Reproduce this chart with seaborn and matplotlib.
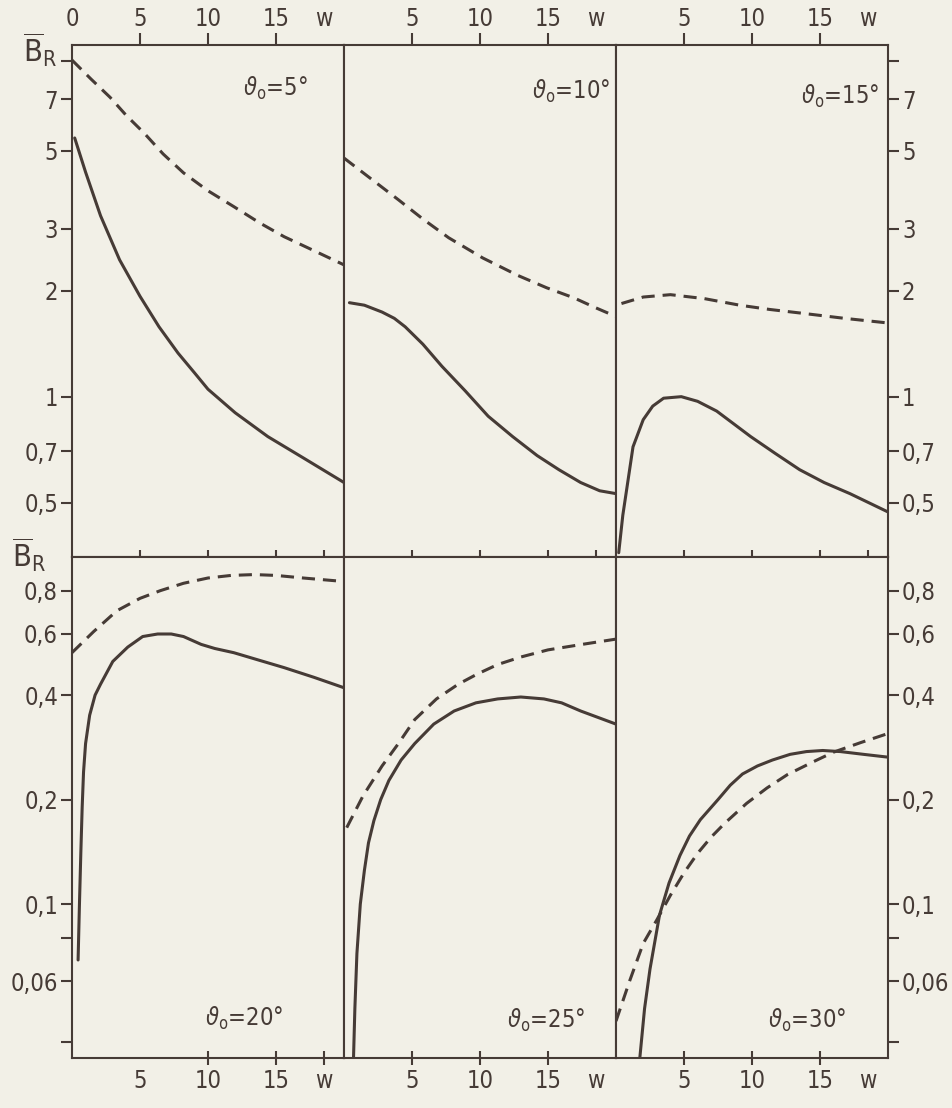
import numpy as np
import pandas as pd
import matplotlib
matplotlib.use("Agg")
import matplotlib.pyplot as plt
import seaborn as sns
from matplotlib.ticker import FixedLocator, FixedFormatter, NullLocator

# ---------------- data (w = wind speed, B = relative brightness) ----------------
angles = ["5", "10", "15", "20", "25", "30"]

w_total_5 = [0.2, 1, 2.1, 3.5, 5.0, 6.4, 7.8, 9, 10, 12, 14.4, 17, 20]
b_total_5 = [5.44, 4.35, 3.27, 2.45, 1.93, 1.58, 1.33, 1.17, 1.05, 0.90, 0.77, 0.67, 0.57]
w_sky_5 = [0, 1.4, 2.8, 4, 5.3, 6.7, 8.2, 10, 11.9, 13.8, 15.6, 17.8, 20]
b_sky_5 = [9.06, 8.0, 7.1, 6.3, 5.62, 4.9, 4.33, 3.85, 3.47, 3.12, 2.85, 2.6, 2.37]

w_total_10 = [0.4, 1.5, 2.8, 3.7, 4.5, 5.8, 7.2, 8.9, 10.6, 12.4, 14.2, 15.8, 17.4, 18.8, 20]
b_total_10 = [1.85, 1.82, 1.74, 1.67, 1.58, 1.41, 1.22, 1.04, 0.88, 0.77, 0.68, 0.62, 0.57, 0.54, 0.53]
w_sky_10 = [0, 2, 4, 5.8, 7.7, 10.2, 12.8, 14.9, 16.9, 18.5, 20]
b_sky_10 = [4.77, 4.16, 3.63, 3.2, 2.83, 2.48, 2.21, 2.04, 1.91, 1.79, 1.69]

w_total_15 = [0.2, 0.5, 0.8, 1.25, 2, 2.7, 3.5, 4.8, 6, 7.4, 8.6, 9.9, 11.7, 13.5, 15.3, 17.2, 20]
b_total_15 = [0.36, 0.46, 0.55, 0.72, 0.86, 0.94, 0.99, 1.0, 0.97, 0.91, 0.84, 0.77, 0.69, 0.62, 0.57, 0.53, 0.47]
w_sky_15 = [0.4, 2, 4, 6.5, 9.1, 11.3, 13.5, 16.8, 20]
b_sky_15 = [1.84, 1.92, 1.95, 1.90, 1.82, 1.77, 1.73, 1.67, 1.62]

w_total_20 = [0.45, 0.55, 0.65, 0.75, 0.85, 1.0, 1.3, 1.7, 2.1, 3, 4.1, 5.2, 6.3, 7.3, 8.2, 9.5, 10.5, 11.9, 13.7, 15.6, 17.8, 20]
b_total_20 = [0.069, 0.10, 0.14, 0.19, 0.24, 0.29, 0.35, 0.40, 0.43, 0.50, 0.55, 0.59, 0.60, 0.60, 0.59, 0.56, 0.545, 0.53, 0.505, 0.48, 0.45, 0.42]
w_sky_20 = [0, 1.6, 3.3, 5, 6.5, 8.2, 10, 11.7, 13.4, 15, 17, 20]
b_sky_20 = [0.53, 0.61, 0.70, 0.76, 0.80, 0.84, 0.87, 0.885, 0.89, 0.885, 0.87, 0.85]

w_total_25 = [0.7, 0.8, 0.95, 1.2, 1.5, 1.8, 2.2, 2.7, 3.3, 4.2, 5.2, 6.6, 8.1, 9.7, 11.3, 13, 14.7, 16, 17.4, 20]
b_total_25 = [0.036, 0.05, 0.072, 0.10, 0.125, 0.15, 0.174, 0.20, 0.227, 0.26, 0.29, 0.33, 0.36, 0.38, 0.39, 0.395, 0.39, 0.38, 0.36, 0.33]
w_sky_25 = [0.2, 1.4, 2.8, 4, 5.2, 6.8, 8.4, 9.8, 11.3, 13, 15, 17.5, 20]
b_sky_25 = [0.166, 0.205, 0.25, 0.29, 0.34, 0.39, 0.43, 0.46, 0.49, 0.515, 0.54, 0.56, 0.58]

w_total_30 = [1.75, 2.1, 2.5, 3.2, 3.9, 4.7, 5.4, 6.2, 7.5, 8.4, 9.3, 10.4, 11.5, 12.8, 14, 15.2, 16.5, 18.2, 20]
b_total_30 = [0.036, 0.05, 0.065, 0.093, 0.115, 0.138, 0.157, 0.175, 0.20, 0.22, 0.237, 0.25, 0.26, 0.27, 0.275, 0.277, 0.275, 0.27, 0.265]
w_sky_30 = [0, 1, 2, 3, 4, 5, 6, 7, 8, 9.6, 11.1, 12.6, 14.5, 16, 18, 20]
b_sky_30 = [0.046, 0.06, 0.077, 0.09, 0.106, 0.123, 0.14, 0.156, 0.171, 0.195, 0.216, 0.236, 0.257, 0.274, 0.292, 0.31]

x_ticks = [0, 5, 10, 15]
x_tick_labels = ["0", "5", "10", "15"]
top_y_ticks = [0.5, 0.7, 1, 2, 3, 5, 7, 9]
top_y_labels = ["0,5", "0,7", "1", "2", "3", "5", "7", ""]
bot_y_ticks = [0.04, 0.06, 0.08, 0.1, 0.2, 0.4, 0.6, 0.8]
bot_y_labels = ["", "0,06", "", "0,1", "0,2", "0,4", "0,6", "0,8"]

panels = [
    (w_total_5, b_total_5, w_sky_5, b_sky_5),
    (w_total_10, b_total_10, w_sky_10, b_sky_10),
    (w_total_15, b_total_15, w_sky_15, b_sky_15),
    (w_total_20, b_total_20, w_sky_20, b_sky_20),
    (w_total_25, b_total_25, w_sky_25, b_sky_25),
    (w_total_30, b_total_30, w_sky_30, b_sky_30),
]

# ---------------- style ----------------
INK = "#463b36"
PAPER = "#f2f0e7"
sns.set_theme(style="ticks")
plt.rcParams["font.family"] = ["DejaVu Sans"]
plt.rcParams["font.stretch"] = "condensed"
plt.rcParams["mathtext.fontset"] = "dejavusans"
plt.rcParams["text.color"] = INK
plt.rcParams["axes.edgecolor"] = INK
plt.rcParams["xtick.color"] = INK
plt.rcParams["ytick.color"] = INK
plt.rcParams["axes.linewidth"] = 1.5
plt.rcParams["lines.solid_capstyle"] = "round"
plt.rcParams["lines.solid_joinstyle"] = "round"

fig, axes = plt.subplots(
    2, 3, figsize=(9.52, 11.08), dpi=100, sharex=True,
    gridspec_kw=dict(height_ratios=[512, 501]),
)
fig.patch.set_facecolor(PAPER)
fig.subplots_adjust(left=0.0756, right=0.9328, bottom=0.0451, top=0.9594,
                    wspace=0, hspace=0)

FS = 17
title_pos = [(0.63, 0.915), (0.69, 0.91), (0.68, 0.90),
             (0.49, 0.08), (0.60, 0.075), (0.56, 0.075)]

for i, ax in enumerate(axes.flat):
    row, col = divmod(i, 3)
    wt, bt, ws, bs = panels[i]
    df = pd.concat([
        pd.DataFrame({"w": wt, "B": bt, "kind": "total"}),
        pd.DataFrame({"w": ws, "B": bs, "kind": "sky"}),
    ], ignore_index=True)
    ax.set_facecolor(PAPER)
    sns.lineplot(data=df, x="w", y="B", style="kind",
                 dashes={"total": "", "sky": (4.3, 2.6)},
                 color=INK, linewidth=2.2, legend=False, ax=ax,
                 sort=False, estimator=None)
    ax.set_yscale("log")
    ax.set_xlim(0, 20)
    if row == 0:
        ax.set_ylim(0.35, 10)
        yt, yl = top_y_ticks, top_y_labels
    else:
        ax.set_ylim(0.036, 1.0)
        yt, yl = bot_y_ticks, bot_y_labels
    ax.yaxis.set_major_locator(FixedLocator(yt))
    ax.yaxis.set_major_formatter(FixedFormatter(yl))
    ax.yaxis.set_minor_locator(NullLocator())
    ax.set_xlabel("")
    ax.set_ylabel("")

    ax.tick_params(axis="y", which="major", direction="out", length=8, width=1.5,
                   left=(col == 0), right=(col == 2),
                   labelleft=(col == 0), labelright=(col == 2),
                   labelsize=FS, pad=2)

    if col == 0:
        xt = x_ticks + [18.5]
        xl = x_tick_labels + ["w"]
    else:
        xt = x_ticks[1:] + [18.5]
        xl = x_tick_labels[1:] + ["w"]
    if row == 0:
        ax.xaxis.set_major_locator(FixedLocator(x_ticks[1:]))
        ax.tick_params(axis="x", which="major", direction="inout", length=10,
                       width=1.5, bottom=True, top=False, labelbottom=False,
                       labeltop=False)
        sec = ax.secondary_xaxis("top")
        sec.xaxis.set_major_locator(FixedLocator(xt))
        sec.xaxis.set_major_formatter(FixedFormatter(xl))
        sec.tick_params(axis="x", direction="out", length=9, width=1.5,
                        labelsize=FS, pad=1, colors=INK)
        sec.spines["top"].set_visible(False)
        sec.xaxis.get_major_ticks()[-1].tick1line.set_visible(False)
        sec.xaxis.get_major_ticks()[-1].tick2line.set_visible(False)
        if col == 0:
            sec.xaxis.get_major_ticks()[0].tick1line.set_visible(False)
            sec.xaxis.get_major_ticks()[0].tick2line.set_visible(False)
    else:
        ax.xaxis.set_major_locator(FixedLocator(xt))
        ax.xaxis.set_major_formatter(FixedFormatter(xl))
        ax.tick_params(axis="x", which="major", direction="inout", length=10,
                       width=1.5, bottom=True, top=False, labelbottom=True,
                       labelsize=FS, pad=3)
        ticks = ax.xaxis.get_major_ticks()
        ticks[-1].tick1line.set_visible(False)
        if col == 0:
            ticks[0].tick1line.set_visible(False)
    ax.xaxis.set_minor_locator(NullLocator())

    for s in ax.spines.values():
        s.set_visible(True)
        s.set_color(INK)
        s.set_linewidth(1.5)

    tx, ty = title_pos[i]
    ax.text(tx, ty, r"$\vartheta_{\rm o}$=" + angles[i] + "°", transform=ax.transAxes,
            fontsize=FS, ha="left", va="center", color=INK)

fig.text(23 / 952, 1 - 50 / 1108, r"$\overline{\rm B}_{\rm R}$", fontsize=22,
         ha="left", va="center", color=INK)
fig.text(12 / 952, 1 - 555 / 1108, r"$\overline{\rm B}_{\rm R}$", fontsize=22,
         ha="left", va="center", color=INK)

fig.savefig("out.png", dpi=100, facecolor=PAPER)
